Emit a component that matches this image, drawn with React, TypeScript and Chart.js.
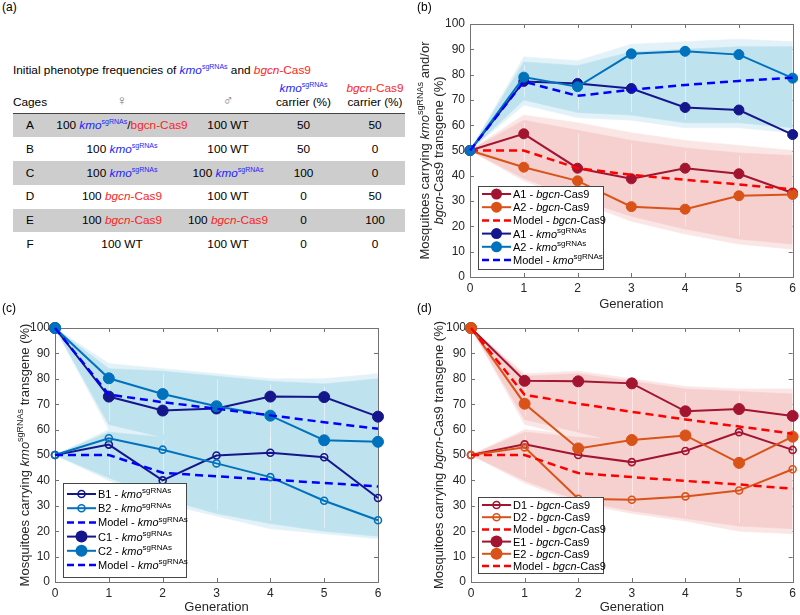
import React, { useEffect, useRef } from 'react';
import { Chart, registerables } from 'chart.js';
Chart.register(...registerables);

const FONT = '"Liberation Sans", Arial, Helvetica, sans-serif';
Chart.defaults.font.family = FONT;

// ---------- Panel (a) table data ----------
const CAGES = ['A', 'B', 'C', 'D', 'E', 'F'];
const FEMALES = ['kmo/bgcn', 'kmo', 'kmo', 'bgcn', 'bgcn', 'WT'];
const MALES = ['WT', 'WT', 'kmo', 'WT', 'bgcn', 'WT'];
const PARENT_COUNT = 100;
const KMO_CARRIER = [50, 50, 100, 0, 0, 0];
const BGCN_CARRIER = [50, 0, 0, 50, 100, 0];

// ---------- Shared x values ----------
const GENERATIONS = [0, 1, 2, 3, 4, 5, 6];
const Y_TICK_STEP = 10;

// ---------- Panel (b) ----------
const A1_BGCN = [50, 56.6, 43, 38.8, 43, 40.8, 33.2];
const A2_BGCN = [50, 43.4, 38, 27.8, 26.8, 32.1, 32.6];
const MODEL_A_BGCN = [50, 50, 43, 40.4, 38.4, 36.6, 34.6];
const A1_KMO = [50, 77.3, 76.5, 74.5, 67, 66, 56.3];
const A2_KMO = [50, 79, 75.2, 88.2, 89.2, 87.9, 78.6];
const MODEL_A_KMO = [50, 77.2, 71.6, 74, 75.9, 77.5, 78.8];
const SIM_A_KMO_MAX = [50, 87, 85.5, 92, 93, 94, 93];
const SIM_A_KMO_MIN = [50, 68, 63, 62, 59, 59, 57];
const SIM_A_KMO_HI = [50, 85, 83.5, 89, 90, 91, 91];
const SIM_A_KMO_LO = [50, 70, 65, 64, 61, 61, 59];
const SIM_A_BGCN_MAX = [50, 64, 61, 57, 54, 52, 50];
const SIM_A_BGCN_MIN = [50, 38, 30, 22, 17, 13, 11];
const SIM_A_BGCN_HI = [50, 62, 58, 54, 51, 49, 48];
const SIM_A_BGCN_LO = [50, 39, 31, 24, 19, 15, 13];

// ---------- Panel (c) ----------
const B1_KMO = [50, 54.1, 40, 49.8, 50.9, 49.1, 33.1];
const B2_KMO = [50, 56.6, 52.1, 46.7, 41.3, 32, 24.3];
const MODEL_B_KMO = [50, 50, 43, 41.6, 40.3, 39, 37.6];
const C1_KMO = [100, 73, 67.5, 68.3, 73, 72.8, 65.1];
const C2_KMO = [100, 80.2, 74, 69.2, 65.5, 55.8, 55.2];
const MODEL_C_KMO = [100, 73.8, 70.8, 68.2, 65.6, 62.9, 60.3];
const SIM_C_MAX = [100, 86, 84, 82, 80, 80, 82];
const SIM_C_MIN = [100, 60, 55, 52, 48, 46, 44];
const SIM_C_HI = [100, 84, 83, 81, 79, 78, 80];
const SIM_C_LO = [100, 62, 57, 54, 50, 48, 46];
const SIM_B_MAX = [50, 60, 58, 58, 59, 62, 65];
const SIM_B_MIN = [50, 40, 31, 26, 21, 19, 17];
const SIM_B_HI = [50, 59, 57, 57, 58, 60, 63];
const SIM_B_LO = [50, 41, 33, 27, 23, 20, 18];

// ---------- Panel (d) ----------
const D1_BGCN = [50, 54.2, 50, 47.2, 51.6, 59, 52];
const D2_BGCN = [50, 53, 32.8, 32.4, 33.7, 36, 44.4];
const MODEL_D_BGCN = [50, 50, 42.9, 41.3, 39.8, 38.4, 36.7];
const E1_BGCN = [100, 79.2, 79, 78.2, 67.2, 68.1, 65.4];
const E2_BGCN = [100, 70.2, 52.6, 55.9, 57.7, 46.9, 57.2];
const MODEL_E_BGCN = [100, 73.7, 70.2, 67, 64, 61.2, 58.4];
const SIM_E_MAX = [100, 82, 83, 80, 77, 76, 76];
const SIM_E_MIN = [100, 62, 57, 52, 48, 45, 43];
const SIM_E_HI = [100, 81, 82, 79, 76, 75, 74];
const SIM_E_LO = [100, 64, 59, 54, 50, 47, 45];
const SIM_D_MAX = [50, 60, 58, 57, 57, 58, 59];
const SIM_D_MIN = [50, 39, 31, 27, 24, 20, 19];
const SIM_D_HI = [50, 59, 57, 56, 56, 57, 58];
const SIM_D_LO = [50, 40, 32, 28, 25, 22, 21];

// ---------- Styles ----------
const AXIS = 'rgb(115,115,115)';
const TEXT = 'rgb(38,38,38)';
const DARK_RED = 'rgb(162,20,47)';
const ORANGE = 'rgb(217,83,25)';
const NAVY = 'rgb(22,22,140)';
const BLUE = 'rgb(0,114,189)';
const MODEL_RED = 'rgb(255,0,0)';
const MODEL_BLUE = 'rgb(0,0,255)';
const BAND_BLUE = 'rgb(190,226,238)';
const BAND_BLUE_LIGHT = 'rgb(226,242,248)';
const BAND_PINK = 'rgb(246,207,207)';
const BAND_PINK_LIGHT = 'rgb(251,230,230)';
const TABLE_KMO = 'rgb(30,30,255)';
const TABLE_BGCN = 'rgb(255,30,30)';

type Seg = { t: string; i?: boolean; sup?: boolean };
const kmoLabel = (p: string): Seg[] => [{ t: p + ' - ' }, { t: 'kmo', i: true }, { t: 'sgRNAs', sup: true }];
const bgcnLabel = (p: string): Seg[] => [{ t: p + ' - ' }, { t: 'bgcn', i: true }, { t: '-Cas9' }];

function segFont(s: Seg, size: number) {
  return `${s.i ? 'italic ' : ''}${s.sup ? Math.round(size * 0.72) : size}px ${FONT}`;
}
function drawRich(ctx: CanvasRenderingContext2D, segs: Seg[], x: number, y: number, size: number, align: 'left' | 'center', color: string) {
  let total = 0;
  const widths = segs.map((s) => {
    ctx.font = segFont(s, size);
    const w = ctx.measureText(s.t).width;
    total += w;
    return w;
  });
  let cx = align === 'center' ? x - total / 2 : x;
  ctx.textAlign = 'left';
  ctx.textBaseline = 'alphabetic';
  ctx.fillStyle = color;
  segs.forEach((s, k) => {
    ctx.font = segFont(s, size);
    ctx.fillText(s.t, cx, y + size * 0.36 - (s.sup ? size * 0.42 : 0));
    cx += widths[k];
  });
}

type Kind = 'filled' | 'open' | 'model';
interface SeriesSpec { values: number[]; color: string; kind: Kind; label: Seg[] }
interface BandSpec { max: number[]; min: number[]; hi: number[]; lo: number[]; color: string; light: string }
interface PanelSpec {
  left: number; top: number; width: number; height: number;
  padding: { left: number; right: number; top: number; bottom: number };
  yW: number; xH: number; filledR: number; openR: number;
  bands: BandSpec[]; series: SeriesSpec[];
  yTitle: { x: number; gap: number; lines: Seg[][] };
  legend: { x: number; y: number; w: number; h: number; first: number; rowH: number };
}

const pts = (v: number[]) => GENERATIONS.map((g, i) => ({ x: g, y: v[i] }));

const PANEL_B: PanelSpec = {
  left: 400, top: 0, width: 400, height: 312,
  padding: { left: 0, right: 7, top: 24, bottom: 0 }, yW: 70, xH: 35, filledR: 5.5, openR: 3.5,
  bands: [
    { max: SIM_A_KMO_MAX, min: SIM_A_KMO_MIN, hi: SIM_A_KMO_HI, lo: SIM_A_KMO_LO, color: BAND_BLUE, light: BAND_BLUE_LIGHT },
    { max: SIM_A_BGCN_MAX, min: SIM_A_BGCN_MIN, hi: SIM_A_BGCN_HI, lo: SIM_A_BGCN_LO, color: BAND_PINK, light: BAND_PINK_LIGHT },
  ],
  series: [
    { values: A1_BGCN, color: DARK_RED, kind: 'filled', label: bgcnLabel('A1') },
    { values: A2_BGCN, color: ORANGE, kind: 'filled', label: bgcnLabel('A2') },
    { values: MODEL_A_BGCN, color: MODEL_RED, kind: 'model', label: bgcnLabel('Model') },
    { values: A1_KMO, color: NAVY, kind: 'filled', label: kmoLabel('A1') },
    { values: A2_KMO, color: BLUE, kind: 'filled', label: kmoLabel('A2') },
    { values: MODEL_A_KMO, color: MODEL_BLUE, kind: 'model', label: kmoLabel('Model') },
  ],
  yTitle: {
    x: 24, gap: 14,
    lines: [
      [{ t: 'Mosquitoes carrying ' }, { t: 'kmo', i: true }, { t: 'sgRNAs', sup: true }, { t: ' and/or' }],
      [{ t: 'bgcn', i: true }, { t: '-Cas9 transgene (%)' }],
    ],
  },
  legend: { x: 78, y: 186, w: 125, h: 83, first: 8, rowH: 13.2 },
};

const PANEL_C: PanelSpec = {
  left: 0, top: 312, width: 400, height: 303,
  padding: { left: 0, right: 22, top: 16, bottom: 0 }, yW: 55, xH: 33, filledR: 6, openR: 3.5,
  bands: [
    { max: SIM_C_MAX, min: SIM_C_MIN, hi: SIM_C_HI, lo: SIM_C_LO, color: BAND_BLUE, light: BAND_BLUE_LIGHT },
    { max: SIM_B_MAX, min: SIM_B_MIN, hi: SIM_B_HI, lo: SIM_B_LO, color: BAND_BLUE, light: BAND_BLUE_LIGHT },
  ],
  series: [
    { values: B1_KMO, color: NAVY, kind: 'open', label: kmoLabel('B1') },
    { values: B2_KMO, color: BLUE, kind: 'open', label: kmoLabel('B2') },
    { values: MODEL_B_KMO, color: MODEL_BLUE, kind: 'model', label: kmoLabel('Model') },
    { values: C1_KMO, color: NAVY, kind: 'filled', label: kmoLabel('C1') },
    { values: C2_KMO, color: BLUE, kind: 'filled', label: kmoLabel('C2') },
    { values: MODEL_C_KMO, color: MODEL_BLUE, kind: 'model', label: kmoLabel('Model') },
  ],
  yTitle: {
    x: 24, gap: 0,
    lines: [[{ t: 'Mosquitoes carrying ' }, { t: 'kmo', i: true }, { t: 'sgRNAs', sup: true }, { t: ' transgene (%)' }]],
  },
  legend: { x: 63, y: 171, w: 123, h: 94, first: 11, rowH: 14.2 },
};

const PANEL_D: PanelSpec = {
  left: 400, top: 312, width: 400, height: 303,
  padding: { left: 0, right: 7, top: 16, bottom: 0 }, yW: 71, xH: 33, filledR: 6, openR: 3.5,
  bands: [
    { max: SIM_E_MAX, min: SIM_E_MIN, hi: SIM_E_HI, lo: SIM_E_LO, color: BAND_PINK, light: BAND_PINK_LIGHT },
    { max: SIM_D_MAX, min: SIM_D_MIN, hi: SIM_D_HI, lo: SIM_D_LO, color: BAND_PINK, light: BAND_PINK_LIGHT },
  ],
  series: [
    { values: D1_BGCN, color: DARK_RED, kind: 'open', label: bgcnLabel('D1') },
    { values: D2_BGCN, color: ORANGE, kind: 'open', label: bgcnLabel('D2') },
    { values: MODEL_D_BGCN, color: MODEL_RED, kind: 'model', label: bgcnLabel('Model') },
    { values: E1_BGCN, color: DARK_RED, kind: 'filled', label: bgcnLabel('E1') },
    { values: E2_BGCN, color: ORANGE, kind: 'filled', label: bgcnLabel('E2') },
    { values: MODEL_E_BGCN, color: MODEL_RED, kind: 'model', label: bgcnLabel('Model') },
  ],
  yTitle: {
    x: 38, gap: 0,
    lines: [[{ t: 'Mosquitoes carrying ' }, { t: 'bgcn', i: true }, { t: '-Cas9 transgene (%)' }]],
  },
  legend: { x: 78, y: 185, w: 125, h: 76, first: 8, rowH: 12.2 },
};

function drawMarker(ctx: CanvasRenderingContext2D, s: SeriesSpec, x: number, y: number, spec: PanelSpec) {
  if (s.kind === 'model') return;
  ctx.beginPath();
  if (s.kind === 'filled') {
    ctx.arc(x, y, spec.filledR, 0, Math.PI * 2);
    ctx.fillStyle = s.color;
    ctx.fill();
  } else {
    ctx.arc(x, y, spec.openR, 0, Math.PI * 2);
    ctx.lineWidth = 1.6;
    ctx.strokeStyle = s.color;
    ctx.stroke();
  }
}

function makeDecor(spec: PanelSpec, firstSeriesIndex: number) {
  return {
    id: 'decor',
    beforeDatasetsDraw(chart: any) {
      const { ctx, chartArea: a, scales } = chart;
      ctx.save();
      ctx.strokeStyle = AXIS;
      ctx.lineWidth = 1;
      ctx.beginPath();
      scales.x.ticks.forEach((t: any) => {
        const px = Math.round(scales.x.getPixelForValue(t.value)) + 0.5;
        ctx.moveTo(px, a.bottom); ctx.lineTo(px, a.bottom - 4);
        ctx.moveTo(px, a.top); ctx.lineTo(px, a.top + 4);
      });
      scales.y.ticks.forEach((t: any) => {
        const py = Math.round(scales.y.getPixelForValue(t.value)) + 0.5;
        ctx.moveTo(a.left, py); ctx.lineTo(a.left + 4, py);
        ctx.moveTo(a.right, py); ctx.lineTo(a.right - 4, py);
      });
      ctx.stroke();
      ctx.strokeRect(Math.round(a.left) + 0.5, Math.round(a.top) + 0.5, Math.round(a.width), Math.round(a.height));
      ctx.restore();
    },
    beforeDatasetDraw(chart: any, args: any) {
      // light seams where the simulated trajectories meet at each generation
      if (args.index !== firstSeriesIndex) return;
      const { ctx, scales } = chart;
      ctx.save();
      ctx.strokeStyle = 'rgba(255,255,255,0.5)';
      ctx.lineWidth = 1;
      ctx.beginPath();
      spec.bands.forEach((b) => {
        GENERATIONS.forEach((g, i) => {
          if (i === 0 || i === GENERATIONS.length - 1) return;
          const px = Math.round(scales.x.getPixelForValue(g)) + 0.5;
          ctx.moveTo(px, scales.y.getPixelForValue(b.hi[i]) + 3);
          ctx.lineTo(px, scales.y.getPixelForValue(b.lo[i]) - 3);
        });
      });
      ctx.stroke();
      ctx.restore();
    },
    afterDraw(chart: any) {
      const { ctx, chartArea: a } = chart;
      ctx.save();
      const cy = (a.top + a.bottom) / 2;
      spec.yTitle.lines.forEach((segs, k) => {
        ctx.save();
        ctx.translate(spec.yTitle.x + k * spec.yTitle.gap, cy);
        ctx.rotate(-Math.PI / 2);
        drawRich(ctx, segs, 0, 0, 13, 'center', TEXT);
        ctx.restore();
      });
      const L = spec.legend;
      ctx.fillStyle = 'white';
      ctx.fillRect(L.x, L.y, L.w, L.h);
      ctx.strokeStyle = 'rgb(70,70,70)';
      ctx.lineWidth = 1;
      ctx.strokeRect(L.x + 0.5, L.y + 0.5, L.w, L.h);
      spec.series.forEach((s, k) => {
        const y = L.y + L.first + k * L.rowH;
        const x0 = L.x + 4, x1 = L.x + 33;
        ctx.beginPath();
        ctx.strokeStyle = s.color;
        ctx.lineWidth = s.kind === 'model' ? 2.5 : 2;
        ctx.setLineDash(s.kind === 'model' ? [7, 4] : []);
        ctx.moveTo(x0, y); ctx.lineTo(x1, y);
        ctx.stroke();
        ctx.setLineDash([]);
        drawMarker(ctx, s, (x0 + x1) / 2, y, spec);
        drawRich(ctx, s.label, L.x + 35, y, 11, 'left', 'rgb(0,0,0)');
      });
      ctx.restore();
    },
  };
}

function buildChart(canvas: HTMLCanvasElement, spec: PanelSpec) {
  const datasets: any[] = [];
  const bandDs = (hi: number[], lo: number[], color: string, order: number) => {
    datasets.push({ data: pts(hi), fill: '+1', backgroundColor: color, borderColor: color, borderWidth: 0.6, pointRadius: 0, order, clip: false });
    datasets.push({ data: pts(lo), fill: false, borderColor: color, borderWidth: 0.6, pointRadius: 0, order, clip: false });
  };
  spec.bands.forEach((b) => bandDs(b.max, b.min, b.light, 1000));
  spec.bands.forEach((b) => bandDs(b.hi, b.lo, b.color, 900));
  const firstSeriesIndex = datasets.length;
  spec.series.forEach((s, k) => {
    const base: any = {
      data: pts(s.values), borderColor: s.color, fill: false, order: 100 - k, clip: false,
      pointHoverRadius: 0,
    };
    if (s.kind === 'model') {
      Object.assign(base, { borderWidth: 2.5, borderDash: [8, 5], pointRadius: 0 });
    } else if (s.kind === 'filled') {
      Object.assign(base, { borderWidth: 2, pointRadius: spec.filledR - 0.5, pointBorderWidth: 1, pointBackgroundColor: s.color, pointBorderColor: s.color });
    } else {
      Object.assign(base, { borderWidth: 2, pointRadius: spec.openR, pointBorderWidth: 1.6, pointBackgroundColor: 'rgba(255,255,255,0)', pointBorderColor: s.color });
    }
    datasets.push(base);
  });

  return new Chart(canvas, {
    type: 'line',
    data: { datasets },
    options: {
      animation: false,
      responsive: false,
      events: [],
      layout: { padding: spec.padding },
      plugins: { legend: { display: false }, tooltip: { enabled: false } },
      elements: { line: { tension: 0 } },
      scales: {
        x: {
          type: 'linear', min: 0, max: 6,
          afterFit: (s: any) => { s.height = spec.xH; },
          grid: { display: false, drawTicks: false },
          border: { display: false },
          ticks: { stepSize: 1, padding: 4, color: TEXT, font: { size: 12, family: FONT }, maxRotation: 0, autoSkip: false },
          title: { display: true, text: 'Generation', color: TEXT, font: { size: 13, family: FONT }, padding: { top: 0, bottom: 0 } },
        },
        y: {
          type: 'linear', min: 0, max: 100,
          afterFit: (s: any) => { s.width = spec.yW; },
          grid: { display: false, drawTicks: false },
          border: { display: false },
          ticks: { stepSize: Y_TICK_STEP, padding: 5, color: TEXT, font: { size: 12, family: FONT }, autoSkip: false },
        },
      },
    },
    plugins: [makeDecor(spec, firstSeriesIndex)],
  } as any);
}

// ---------- Table (a) ----------
const supStyle = (color: string): React.CSSProperties => ({ color, fontSize: '7px', verticalAlign: '5px', lineHeight: 0 });
const Kmo = () => (<><i style={{ color: TABLE_KMO }}>kmo</i><span style={supStyle(TABLE_KMO)}>sgRNAs</span></>);
const Bgcn = ({ italic = true }: { italic?: boolean }) => (
  <span style={{ color: TABLE_BGCN }}>{italic ? <i>bgcn</i> : 'bgcn'}-Cas9</span>
);
function Geno({ g }: { g: string }) {
  if (g === 'WT') return <>{PARENT_COUNT} WT</>;
  if (g === 'kmo') return <>{PARENT_COUNT} <Kmo /></>;
  if (g === 'bgcn') return <>{PARENT_COUNT} <Bgcn /></>;
  return <>{PARENT_COUNT} <Kmo />/<Bgcn italic={false} /></>;
}

const TABLE_LEFT = 13;
const TABLE_RIGHT = 405;
const ROW_TOP = 113;
const ROW_H = 23.8;
const COL_X = [30, 122, 228, 303.5, 375];

const cell = (x: number, yc: number, extra?: React.CSSProperties): React.CSSProperties => ({
  position: 'absolute', left: x, top: yc - 8, height: 16, lineHeight: '16px', transform: 'translateX(-50%)', whiteSpace: 'nowrap', ...extra,
});

function TableA() {
  return (
    <div style={{ position: 'absolute', left: 0, top: 0, width: 420, height: 300, fontSize: 11.8, color: 'black' }}>
      <div style={{ position: 'absolute', left: TABLE_LEFT, top: 62, lineHeight: '16px', whiteSpace: 'nowrap' }}>
        Initial phenotype frequencies of <Kmo /> and <Bgcn />
      </div>
      <div style={cell(COL_X[0], 102)}>Cages</div>
      <div style={cell(COL_X[1], 100, { color: '#777', fontSize: 14 })}>♀</div>
      <div style={cell(COL_X[2], 100, { color: '#777', fontSize: 14 })}>♂</div>
      <div style={cell(COL_X[3], 88)}><Kmo /></div>
      <div style={cell(COL_X[3], 102)}>carrier (%)</div>
      <div style={cell(COL_X[4], 88)}><Bgcn /></div>
      <div style={cell(COL_X[4], 102)}>carrier (%)</div>
      <div style={{ position: 'absolute', left: TABLE_LEFT, top: ROW_TOP - 0.5, width: TABLE_RIGHT - TABLE_LEFT, height: 1, background: '#444' }} />
      {CAGES.map((c, i) => {
        const top = ROW_TOP + i * ROW_H;
        const yc = top + ROW_H / 2;
        return (
          <React.Fragment key={c}>
            {i % 2 === 0 && (
              <div style={{ position: 'absolute', left: TABLE_LEFT, top: top + 0.5, width: TABLE_RIGHT - TABLE_LEFT, height: ROW_H, background: 'rgb(205,205,205)' }} />
            )}
            <div style={cell(COL_X[0], yc)}>{c}</div>
            <div style={cell(COL_X[1], yc)}><Geno g={FEMALES[i]} /></div>
            <div style={cell(COL_X[2], yc)}><Geno g={MALES[i]} /></div>
            <div style={cell(COL_X[3], yc)}>{KMO_CARRIER[i]}</div>
            <div style={cell(COL_X[4], yc)}>{BGCN_CARRIER[i]}</div>
          </React.Fragment>
        );
      })}
    </div>
  );
}

const panelLabel = (x: number, y: number): React.CSSProperties => ({
  position: 'absolute', left: x, top: y, fontSize: 12, lineHeight: '14px', color: 'black',
});

export default function App() {
  const refB = useRef<HTMLCanvasElement>(null);
  const refC = useRef<HTMLCanvasElement>(null);
  const refD = useRef<HTMLCanvasElement>(null);

  useEffect(() => {
    const charts = [
      buildChart(refB.current!, PANEL_B),
      buildChart(refC.current!, PANEL_C),
      buildChart(refD.current!, PANEL_D),
    ];
    return () => charts.forEach((c) => c.destroy());
  }, []);

  const canvasStyle = (p: PanelSpec): React.CSSProperties => ({
    position: 'absolute', left: p.left, top: p.top, width: p.width, height: p.height,
  });

  return (
    <div style={{ position: 'absolute', left: 0, top: 0, width: 800, height: 615, background: 'white', fontFamily: FONT, overflow: 'hidden' }}>
      <TableA />
      <canvas ref={refB} width={PANEL_B.width} height={PANEL_B.height} style={canvasStyle(PANEL_B)} />
      <canvas ref={refC} width={PANEL_C.width} height={PANEL_C.height} style={canvasStyle(PANEL_C)} />
      <canvas ref={refD} width={PANEL_D.width} height={PANEL_D.height} style={canvasStyle(PANEL_D)} />
      <div style={panelLabel(2, 0)}>(a)</div>
      <div style={panelLabel(417, 0)}>(b)</div>
      <div style={panelLabel(2, 301)}>(c)</div>
      <div style={panelLabel(417, 301)}>(d)</div>
    </div>
  );
}
